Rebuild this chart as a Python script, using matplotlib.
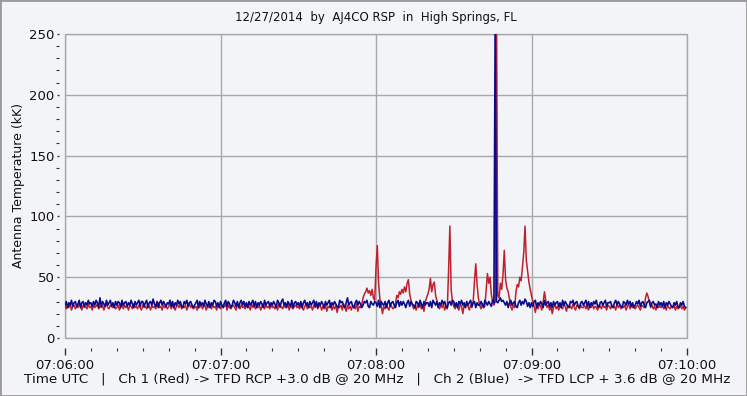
import numpy as np
import matplotlib
matplotlib.use("Agg")
import matplotlib.pyplot as plt
from matplotlib.patches import Rectangle

# ---- data (one sample every 0.5 s, 07:06:00 -> 07:10:00) ----
red_values = [
    26,24,27,25,28,23,26,27,24,26,25,28,26,23,27,25,26,24,28,25,
    26,23,27,25,26,28,24,26,25,27,23,26,28,25,24,27,26,25,27,24,
    25,27,23,26,28,24,27,25,26,23,27,26,24,28,25,26,24,27,25,23,
    27,25,26,24,28,26,23,27,25,26,24,27,29,25,26,23,27,25,26,24,
    26,28,24,27,25,23,26,27,25,28,24,26,25,27,23,26,28,25,27,24,
    25,26,23,27,25,28,24,26,27,23,26,25,28,24,27,25,26,23,27,26,
    24,27,25,26,28,23,27,25,24,26,27,25,23,28,26,24,27,25,26,24,
    27,25,26,23,28,25,27,24,26,25,27,23,26,28,24,27,25,26,24,27,
    25,26,24,27,23,28,25,26,24,27,25,26,28,23,27,25,24,26,27,25,
    26,24,27,25,23,26,28,24,27,25,26,23,27,25,28,24,26,27,23,26,
    24,27,22,26,25,28,23,26,24,27,21,26,25,27,23,28,25,22,27,24,
    26,23,27,25,24,28,22,26,25,27,33,36,38,41,37,39,35,40,33,31,
    58,76,45,32,27,20,26,24,28,25,23,27,26,24,25,28,35,33,38,36,
    40,37,42,38,45,48,36,31,27,24,26,23,27,25,28,24,26,22,30,33,
    36,40,49,38,44,46,35,31,26,24,27,25,28,23,26,24,55,92,40,30,
    26,24,27,25,23,28,26,20,27,25,28,26,23,27,25,30,47,61,44,33,
    27,24,28,25,26,40,53,45,50,36,30,27,30,270,35,33,45,40,52,72,
    48,41,38,32,26,23,27,25,38,44,42,50,47,58,70,92,64,55,46,40,
    35,30,26,21,27,24,28,26,23,30,38,31,25,27,23,26,20,25,28,24,
    26,23,27,25,24,28,26,22,27,25,26,24,28,25,23,27,26,24,27,25,
    25,27,24,26,23,27,25,28,24,26,25,23,27,26,24,28,25,26,23,27,
    26,24,27,25,26,23,28,25,27,24,26,25,27,23,26,28,24,27,25,26,
    24,26,27,25,23,27,26,25,33,37,34,29,25,27,24,26,23,27,25,26,
    25,27,24,26,23,27,25,24,26,25,27,23,26,24,25,27,24,26,23,25,
]
blue_values = [
    27,30,25,29,27,31,26,29,30,26,28,31,25,29,30,26,29,27,31,28,
    29,26,30,27,31,29,25,33,26,30,28,26,31,27,29,31,26,29,25,30,
    27,30,29,25,31,27,29,30,26,29,27,31,28,25,30,27,29,31,26,30,
    30,26,29,31,25,29,30,27,32,28,26,30,25,29,31,27,30,28,26,29,
    28,31,26,30,25,29,27,31,28,30,26,25,30,28,31,26,29,30,27,25,
    27,29,31,25,30,27,29,26,31,28,26,30,25,29,27,31,30,26,29,25,
    30,27,25,29,31,26,30,28,25,27,31,29,26,30,25,29,31,27,30,26,
    29,25,30,27,29,31,26,30,25,29,27,30,28,25,31,27,29,30,26,29,
    27,30,28,25,31,29,26,30,32,27,29,25,30,28,26,31,25,29,30,27,
    29,26,30,25,29,31,27,29,25,30,27,29,31,26,30,25,29,27,30,28,
    25,30,27,29,31,25,29,27,30,28,26,25,31,29,30,26,25,29,33,27,
    29,30,26,25,29,31,27,30,28,25,27,30,29,31,26,25,30,28,27,30,
    29,26,31,25,30,28,27,30,25,29,31,26,29,30,27,25,29,31,26,30,
    27,30,28,25,29,31,26,30,28,27,25,30,29,26,31,28,25,30,27,29,
    29,26,30,25,31,29,27,30,25,29,27,31,28,30,26,25,29,30,27,31,
    30,26,29,25,30,28,31,27,29,25,30,27,29,31,26,29,30,25,29,27,
    27,30,28,25,31,29,27,30,28,26,31,29,270,30,29,31,33,30,31,29,
    27,30,25,29,31,27,29,30,26,25,29,31,27,30,28,32,30,26,29,25,
    29,26,30,31,25,29,27,30,28,25,31,27,29,30,26,29,25,30,27,29,
    30,26,29,25,31,27,30,28,26,25,30,29,31,27,29,30,26,25,29,30,
    27,29,31,26,30,25,29,27,30,28,31,26,25,29,30,27,29,31,26,29,
    29,30,26,25,29,31,27,30,28,26,25,30,29,27,31,28,30,26,29,25,
    27,30,28,31,26,29,30,27,25,29,30,31,26,29,30,27,28,25,30,27,
    29,26,30,25,29,27,30,28,26,25,29,27,30,26,25,29,27,30,26,25,
]
sample_step_s = 0.5
x_tick_seconds = [0, 60, 120, 180, 240]
x_tick_labels = ["07:06:00", "07:07:00", "07:08:00", "07:09:00", "07:10:00"]
y_ticks = [0, 50, 100, 150, 200, 250]

title = "12/27/2014  by  AJ4CO RSP  in  High Springs, FL"
ylabel = "Antenna Temperature (kK)"
footer = ("Time UTC   |   Ch 1 (Red) -> TFD RCP +3.0 dB @ 20 MHz   |   "
          "Ch 2 (Blue)  -> TFD LCP + 3.6 dB @ 20 MHz")

# ---- figure ----
BG = "#F3F4F7"
GRID = "#A8A8A8"
RED = "#C0202E"
BLUE = "#0C0C8A"

fig = plt.figure(figsize=(7.47, 3.96), dpi=100, facecolor=BG)
fig.patches.append(Rectangle((0, 0), 1, 1, transform=fig.transFigure,
                             fill=False, edgecolor="#9A9A9A", linewidth=2.0))
ax = fig.add_axes([65/747, 1 - 338/396, (687-65)/747, (338-34)/396])
ax.set_facecolor(BG)

t = np.arange(len(red_values)) * sample_step_s
ax.plot(t, red_values, color=RED, linewidth=1.1, zorder=3)
ax.plot(t[:len(blue_values)], blue_values, color=BLUE, linewidth=1.2, zorder=4)

ax.set_xlim(0, 240)
ax.set_ylim(0, 250)

ax.set_xticks(x_tick_seconds)
ax.set_xticklabels(x_tick_labels)
ax.set_xticks(np.arange(0, 241, 10), minor=True)
ax.set_yticks(y_ticks)
ax.set_yticklabels([str(v) for v in y_ticks])
ax.set_yticks(np.arange(0, 251, 10), minor=True)

ax.grid(True, which="major", color=GRID, linewidth=1.0, zorder=1)
ax.set_axisbelow(True)

for s in ax.spines.values():
    s.set_visible(False)
ax.spines["left"].set_position(("outward", 4))
ax.spines["bottom"].set_position(("outward", 7))
ax.add_patch(Rectangle((0, 0), 1, 1, transform=ax.transAxes, fill=False,
                       edgecolor=GRID, linewidth=1.0, zorder=2, clip_on=False))

ax.tick_params(axis="y", which="major", length=1.5, width=1, color="#333333",
               labelsize=9.5, pad=2, labelcolor="#111111")
ax.tick_params(axis="y", which="minor", length=2.5, width=0.8, color="#333333")
ax.tick_params(axis="x", which="major", length=5, width=1, color="#333333",
               labelsize=9.5, pad=3, labelcolor="#111111")
ax.tick_params(axis="x", which="minor", length=2.5, width=0.8, color="#333333")

fig.text(19/747, 1 - 186/396, ylabel, rotation=90, ha="center", va="center",
         fontsize=9, color="#111111")
fig.text(376/747, 1 - 18/396, title, ha="center", va="center",
         fontsize=8.5, color="#111111")
fig.text(377/747, 1 - 379/396, footer, ha="center", va="center",
         fontsize=9.7, color="#111111")

fig.savefig("out.png", dpi=100, facecolor=BG)
